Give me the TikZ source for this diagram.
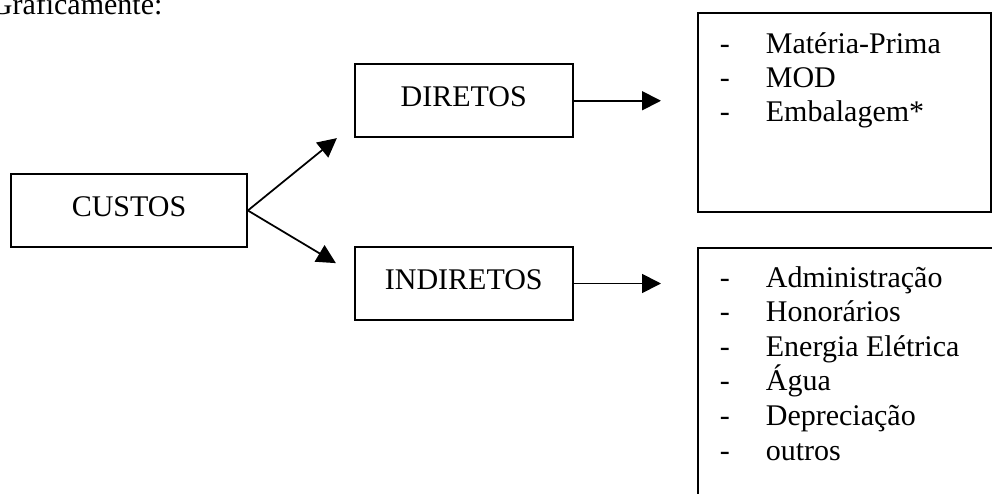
\documentclass[tikz,border=0pt]{standalone}
\usepackage{fontspec}
\setmainfont{Liberation Serif}
\usetikzlibrary{arrows.meta, positioning}

\begin{document}
\begin{tikzpicture}[x=0.4pt, y=-0.4pt, line width=0.7pt,
	font=\fontsize{12pt}{13.8pt}\selectfont,
	caixa/.style={draw, minimum height=29.2pt, text height=8pt, text depth=3.5pt, inner sep=0pt},
	lista/.style={draw, inner sep=0pt, anchor=north west},
	item/.style={anchor=base west, inner sep=0pt},
	seta/.style={-{Triangle[length=7.6pt,width=7.6pt]}}]
	\useasboundingbox (0,0) rectangle (992,493);
	\node[item] (titulo) at (-10,14) {Graficamente:};
	\node[caixa, minimum width=94.4pt] (custos) at (129,210.5) {CUSTOS};
	\node[caixa, minimum width=87.2pt] (diretos) [above right=14pt and 42.4pt of custos] {DIRETOS};
	\node[caixa, minimum width=87.2pt] (indiretos) [below=43.2pt of diretos] {INDIRETOS};
	\node[lista, minimum width=117.2pt, minimum height=79.6pt] (lista1) at (697,12) {};
	\node[lista, minimum width=125.2pt, minimum height=109.2pt] (lista2) at (697,247) {};
	\foreach \txt [count=\i] in {Matéria-Prima, MOD, Embalagem*}
		\node[item] (dir\i) at (719,{53+34*(\i-1)}) {\makebox[18.4pt][l]{-}\txt};
	\foreach \txt [count=\i] in {Administração, Honorários, Energia Elétrica, Água, Depreciação, outros}
		\node[item] (ind\i) at (719,{287+34.6*(\i-1)}) {\makebox[18.4pt][l]{-}\txt};
	\draw[seta] (custos.east) -- ([xshift=-6.8pt]diretos.south west);
	\draw[seta] (custos.east) -- ([xshift=-7.2pt,yshift=-6.8pt]indiretos.north west);
	\coordinate (p1) at (diretos.east -| lista1.west);
	\coordinate (p2) at (indiretos.east -| lista2.west);
	\draw[seta] (diretos.east) -- ([xshift=-14.4pt]p1);
	\draw[seta] (indiretos.east) -- ([xshift=-14.4pt]p2);
\end{tikzpicture}
\end{document}
